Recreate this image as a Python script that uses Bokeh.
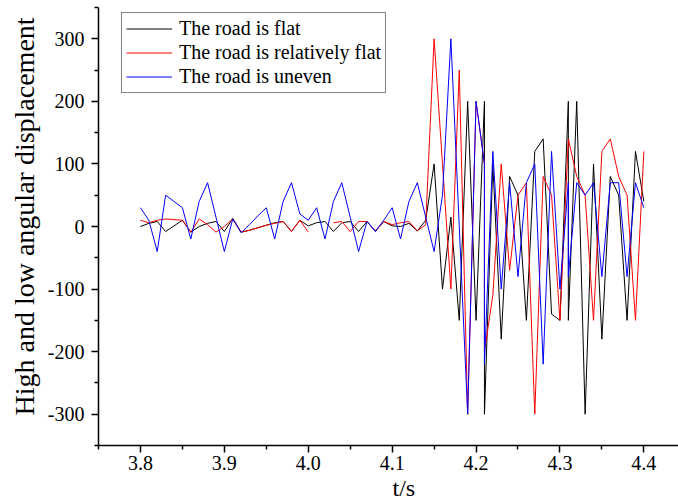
from bokeh.plotting import figure
from bokeh.models import FixedTicker, PrintfTickFormatter, Range1d, Title
from bokeh.embed import file_html
from bokeh.resources import INLINE

NaN = float("nan")

# time axis (s); 4.21 and 4.31 appear twice in the recorded data
t = [3.80, 3.81, 3.82, 3.83, 3.84, 3.85, 3.86, 3.87, 3.88, 3.89,
     3.90, 3.91, 3.92, 3.93, 3.94, 3.95, 3.96, 3.97, 3.98, 3.99,
     4.00, 4.01, 4.02, 4.03, 4.04, 4.05, 4.06, 4.07, 4.08, 4.09,
     4.10, 4.11, 4.12, 4.13, 4.14, 4.15, 4.16, 4.17, 4.18, 4.19,
     4.20, 4.21, 4.21, 4.22, 4.23, 4.24, 4.25, 4.26, 4.27, 4.28,
     4.29, 4.30, 4.31, 4.31, 4.32, 4.33, 4.34, 4.35, 4.36, 4.37,
     4.38, 4.39, 4.40]

flat = [0, 5, 8, -8, 1, 10, -9, 0, 5, 8,
        -8, 13, -9, -6, -2, 2, 6, 8, -8, 10,
        1, 6, 8, -8, 6, 8, -8, 8, -7, 8,
        1, 0, 5, -7, 10, 100, -100, 15, -150, 200,
        -150, 200, -300, 100, -180, 80, 50, -150, 120, 140,
        -140, -150, 200, -150, 200, -300, 100, -180, 80, 50,
        -150, 120, 40]

rel_flat = [10, 6, 10, 12, 11, 10, -9, 12, 3, -9,
            0, 12, -9, -6, -2, 2, 5, 8, -8, 10,
            -9, NaN, NaN, 6, 8, -8, 8, 8, -8, 8,
            3, 6, 8, -7, 3, 300, 100, -100, 250, -300,
            200, 100, -200, -110, 100, -70, 50, 70, -300, 80,
            50, -150, 140, 140, 80, 50, -150, 120, 140, 80,
            50, -150, 120]

uneven = [30, 10, -40, 50, 40, 30, -20, 40, 70, 15,
          -40, 12, -10, 3, 17, 30, -20, 40, 70, 20,
          10, 30, -20, 40, 70, 15, -40, 8, -8, 10,
          30, -20, 40, 70, 15, -40, 50, 300, 0, -300,
          200, 100, -220, 120, -100, 70, -80, 70, 100, -220,
          120, -100, 70, -80, 70, 50, 70, -80, 70, 70,
          -80, 70, 30]

series_names = ["The road is flat", "The road is relatively flat", "The road is uneven"]
series_colors = ["#000000", "#ff0000", "#0000ff"]

x_major = [3.8, 3.9, 4.0, 4.1, 4.2, 4.3, 4.4]
x_minor = [3.75, 3.85, 3.95, 4.05, 4.15, 4.25, 4.35, 4.45]
y_major = [-300, -200, -100, 0, 100, 200, 300]
y_minor = [-350, -250, -150, -50, 50, 150, 250, 350]

x_title = "t/s"
y_title = "High and low angular displacement"

FONT = "Liberation Serif"

p = figure(width=678, height=501, output_backend="svg", toolbar_location=None,
           x_range=Range1d(3.75, 4.4413), y_range=Range1d(-350, 350),
           min_border_left=98, min_border_right=0, min_border_top=7,
           min_border_bottom=56)

for vals, name, col in zip([flat, rel_flat, uneven], series_names, series_colors):
    p.line(t, vals, line_color=col, line_width=1, legend_label=name)

p.xgrid.visible = False
p.ygrid.visible = False
p.outline_line_color = None
p.background_fill_color = "white"
p.border_fill_color = "white"

p.xaxis.ticker = FixedTicker(ticks=x_major, minor_ticks=x_minor)
p.xaxis.formatter = PrintfTickFormatter(format="%.1f")
p.yaxis.ticker = FixedTicker(ticks=y_major, minor_ticks=y_minor)
p.yaxis.formatter = PrintfTickFormatter(format="%d")

for ax in (p.xaxis[0], p.yaxis[0]):
    ax.axis_line_width = 1.5
    ax.axis_line_color = "black"
    ax.major_tick_line_width = 1.5
    ax.minor_tick_line_width = 1.5
    ax.major_tick_line_color = "black"
    ax.minor_tick_line_color = "black"
    ax.major_tick_in = 0
    ax.major_tick_out = 7
    ax.minor_tick_in = 0
    ax.minor_tick_out = 4
    ax.major_label_text_font = FONT
    ax.major_label_text_font_size = "20px"
    ax.major_label_text_color = "black"

p.xaxis.major_label_standoff = 3
p.yaxis.major_label_standoff = 7

# axis titles, offset along the axis as in the reference
p.add_layout(Title(text=x_title, align="left", offset=294, standoff=0,
                   text_font=FONT, text_font_size="24px", text_font_style="normal",
                   text_color="black"), "below")
p.add_layout(Title(text=y_title, align="left", offset=30, standoff=10,
                   text_font=FONT, text_font_size="28px", text_font_style="normal",
                   text_color="black"), "left")

lg = p.legend[0]
lg.location = (23, 352)
lg.border_line_color = "black"
lg.border_line_width = 1
lg.background_fill_color = "white"
lg.background_fill_alpha = 1
lg.label_text_font = FONT
lg.label_text_font_size = "20px"
lg.label_text_color = "black"
lg.glyph_width = 46
lg.glyph_height = 23
lg.label_height = 23
lg.label_standoff = 7
lg.spacing = 1
lg.padding = 4
lg.margin = 0

open("out.html", "w").write(file_html(p, INLINE))
